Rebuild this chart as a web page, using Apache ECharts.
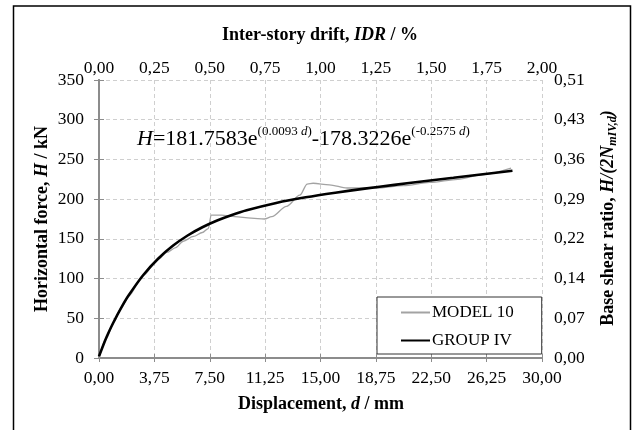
<!DOCTYPE html>
<html>
<head>
<meta charset="utf-8">
<script src="https://cdn.jsdelivr.net/npm/echarts@6/dist/echarts.min.js"></script>
<style>
html,body{margin:0;padding:0;background:#fff;}
#chart{width:635px;height:430px;}
</style>
</head>
<body>
<div id="chart"></div>
<script>
// ---- data ----
const displacementModel = [0, 0.5, 1.0, 1.5, 2.0, 3.0, 4.0, 4.6, 5.2, 5.7, 6.4, 7.0, 7.4, 7.6, 8.3, 9.2, 10.3, 11.2, 11.7, 12.7, 13.6, 14.1, 14.5, 15.6, 16.8, 18.8, 20.6, 22.4, 24.3, 26.0, 27.9];
const forceModel = [0, 25, 45, 63, 78, 104, 124, 133, 139, 147, 153, 158, 163, 180, 180, 178, 176, 175, 178, 191, 205, 219, 220, 218, 214, 214, 217, 221, 225, 231, 239];

const displacementFit = [0, 0.5, 1, 1.5, 2, 3, 4, 5, 6, 7, 8, 9, 10, 12, 14, 16, 18, 20, 22, 24, 26, 28];
const forceFit = [2, 25.8, 45.6, 63.1, 78.6, 104.5, 125.0, 141.2, 154.2, 164.6, 173.1, 180.1, 186.0, 195.2, 202.3, 208.1, 213.2, 218.0, 222.5, 226.9, 231.4, 235.8];

const bottomTickLabels = ['0,00','3,75','7,50','11,25','15,00','18,75','22,50','26,25','30,00'];
const topTickLabels = ['0,00','0,25','0,50','0,75','1,00','1,25','1,50','1,75','2,00'];
const leftTickLabels = ['0','50','100','150','200','250','300','350'];
const rightTickLabels = ['0,00','0,07','0,14','0,22','0,29','0,36','0,43','0,51'];

const seriesNames = ['MODEL 10', 'GROUP IV'];

// ---- build ----
const FONT = '"Liberation Serif", "Times New Roman", serif';
const AXIS_COLOR = '#8c8c8c';
const modelData = displacementModel.map((d, i) => [d, forceModel[i]]);
const fitData = displacementFit.map((d, i) => [d, forceFit[i]]);

const chart = echarts.init(document.getElementById('chart'), null, {renderer: 'canvas'});

const tickLabel = (arr, step) => (v) => {
  const i = Math.round(v / step);
  return arr[i] !== undefined ? arr[i] : '';
};

const labelStyle = {fontFamily: FONT, fontSize: 17.5, color: '#000'};
const titleRich = {
  b: {fontFamily: FONT, fontSize: 18, fontWeight: 'bold', color: '#000', lineHeight: 22},
  bi: {fontFamily: FONT, fontSize: 18, fontWeight: 'bold', fontStyle: 'italic', color: '#000', lineHeight: 22},
  sub: {fontFamily: FONT, fontSize: 12, fontWeight: 'bold', fontStyle: 'italic', color: '#000', lineHeight: 12, verticalAlign: 'bottom'}
};

const option = {
  backgroundColor: '#fff',
  animation: false,
  grid: {left: 99, right: 93, top: 80, bottom: 72, containLabel: false},
  xAxis: [
    {
      type: 'value', position: 'bottom', min: 0, max: 30, interval: 3.75,
      axisLine: {show: true, lineStyle: {color: AXIS_COLOR, width: 2}},
      axisTick: {show: true, length: 4, lineStyle: {color: AXIS_COLOR}},
      axisLabel: Object.assign({margin: 11, formatter: tickLabel(bottomTickLabels, 3.75)}, labelStyle),
      splitLine: {show: true, lineStyle: {color: '#cfcfcf', type: [4, 3], width: 1}}
    },
    {
      type: 'value', position: 'top', min: 0, max: 2, interval: 0.25,
      axisLine: {show: true, lineStyle: {color: AXIS_COLOR, width: 2}},
      axisTick: {show: true, length: 4, lineStyle: {color: AXIS_COLOR}},
      axisLabel: Object.assign({margin: 3, formatter: tickLabel(topTickLabels, 0.25)}, labelStyle),
      splitLine: {show: false}
    }
  ],
  yAxis: [
    {
      type: 'value', position: 'left', min: 0, max: 350, interval: 50,
      axisLine: {show: true, lineStyle: {color: AXIS_COLOR, width: 2}},
      axisTick: {show: true, length: 5, lineStyle: {color: AXIS_COLOR}},
      axisLabel: Object.assign({margin: 15, formatter: tickLabel(leftTickLabels, 50)}, labelStyle),
      splitLine: {show: true, lineStyle: {color: '#cfcfcf', type: [4, 3], width: 1}}
    },
    {
      type: 'value', position: 'right', min: 0, max: 350, interval: 50,
      axisLine: {show: true, lineStyle: {color: AXIS_COLOR, width: 2}},
      axisTick: {show: true, length: 5, lineStyle: {color: AXIS_COLOR}},
      axisLabel: Object.assign({margin: 12, formatter: tickLabel(rightTickLabels, 50)}, labelStyle),
      splitLine: {show: false}
    }
  ],
  legend: {
    orient: 'vertical',
    left: 377, top: 297,
    data: seriesNames,
    backgroundColor: '#fff',
    borderColor: '#333',
    borderWidth: 1,
    borderRadius: 0,
    padding: [6, 28, 4, 23],
    itemGap: 9,
    itemWidth: 29,
    itemHeight: 14,
    itemStyle: {opacity: 0},
    textStyle: {fontFamily: FONT, fontSize: 17, lineHeight: 19, color: '#000', padding: [0, 0, 0, -3]}
  },
  series: [
    {
      name: seriesNames[0], type: 'line', xAxisIndex: 0, yAxisIndex: 0,
      data: modelData, showSymbol: false, symbol: 'none',
      smooth: 0.3, smoothMonotone: 'x',
      lineStyle: {color: '#a3a3a3', width: 1.3}, itemStyle: {color: '#a3a3a3'}, z: 2
    },
    {
      name: seriesNames[1], type: 'line', xAxisIndex: 0, yAxisIndex: 0,
      data: fitData, showSymbol: false, symbol: 'none',
      smooth: 0.3,
      lineStyle: {color: '#000', width: 2.6}, itemStyle: {color: '#000'}, z: 3
    }
  ],
  graphic: [
    {
      type: 'rect', silent: true, z: 100,
      shape: {x: 13.5, y: 6, width: 617, height: 450},
      style: {fill: 'none', stroke: '#000', lineWidth: 1.5}
    },
    {
      type: 'text', x: 320, y: 35, z: 100,
      style: {text: '{b|Inter-story drift, }{bi|IDR}{b| / %}', rich: titleRich, align: 'center', verticalAlign: 'middle'}
    },
    {
      type: 'text', x: 321, y: 404, z: 100,
      style: {text: '{b|Displacement, }{bi|d}{b| / mm}', rich: titleRich, align: 'center', verticalAlign: 'middle'}
    },
    {
      type: 'text', x: 42, y: 219, rotation: Math.PI / 2, z: 100,
      style: {text: '{b|Horizontal force, }{bi|H}{b| / kN}', rich: titleRich, align: 'center', verticalAlign: 'middle'}
    },
    {
      type: 'text', x: 608, y: 218, rotation: Math.PI / 2, z: 100,
      style: {text: '{b|Base shear ratio, }{bi|H/(2N}{sub|mIV,d}{bi|)}', rich: titleRich, align: 'center', verticalAlign: 'middle'}
    },
    {
      type: 'text', x: 137, y: 125, z: 100,
      style: {
        text: '{i|H}{n|=181.7583e}{s|(0.0093 }{si|d}{s|)}{n|-178.3226e}{s|(-0.2575 }{si|d}{s|)}',
        align: 'left', verticalAlign: 'top',
        rich: {
          n: {fontFamily: FONT, fontSize: 22, color: '#000', lineHeight: 28},
          i: {fontFamily: FONT, fontSize: 22, fontStyle: 'italic', color: '#000', lineHeight: 28},
          s: {fontFamily: FONT, fontSize: 13, color: '#000', lineHeight: 13, verticalAlign: 'top'},
          si: {fontFamily: FONT, fontSize: 13, fontStyle: 'italic', color: '#000', lineHeight: 13, verticalAlign: 'top'}
        }
      }
    }
  ]
};

chart.setOption(option);
</script>
</body>
</html>
